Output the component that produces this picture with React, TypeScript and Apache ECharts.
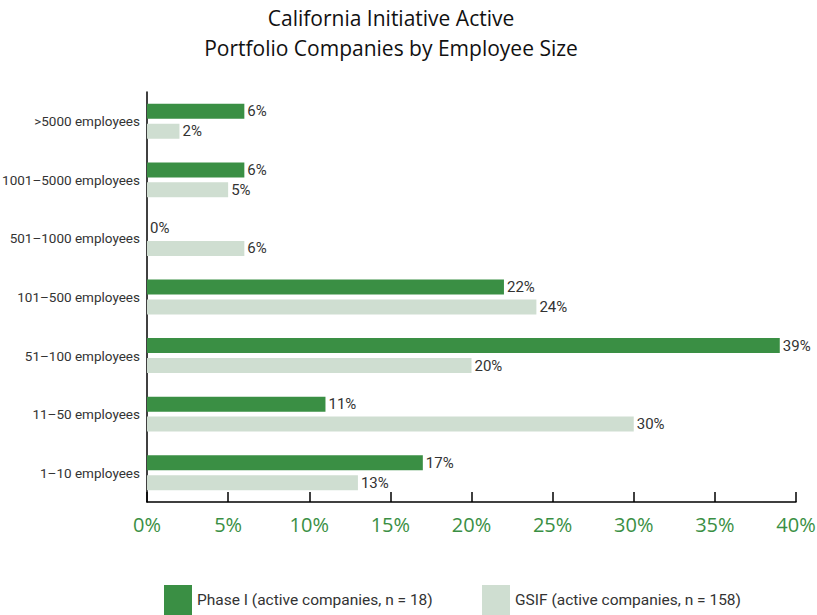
import React, { useEffect, useRef } from "react";
import * as echarts from "echarts";

const categories = [
  ">5000 employees",
  "1001–5000 employees",
  "501–1000 employees",
  "101–500 employees",
  "51–100 employees",
  "11–50 employees",
  "1–10 employees",
];
const phaseI = [6, 6, 0, 22, 39, 11, 17];
const gsif = [2, 5, 6, 24, 20, 30, 13];
const seriesNames = ["Phase I (active companies, n = 18)", "GSIF (active companies, n = 158)"];
const xTicks = [0, 5, 10, 15, 20, 25, 30, 35, 40];

const GREEN = "#3a8f44";
const LIGHT = "#cfded1";
const NARROW = "Roboto, sans-serif";

export default function App() {
  const ref = useRef<HTMLDivElement>(null);
  useEffect(() => {
    if (!ref.current) return;
    const chart = echarts.init(ref.current, null, { renderer: "svg" });
    const valueLabel = {
      show: true,
      position: "right",
      distance: 3,
      formatter: "{c}%",
      color: "#333",
      fontSize: 15,
      fontFamily: NARROW,
    };
    chart.setOption({
      animation: false,
      backgroundColor: "#ffffff",
      title: {
        text: "California Initiative Active\nPortfolio Companies by Employee Size",
        left: 391,
        top: 3,
        padding: 0,
        textAlign: "center",
        textStyle: {
          fontFamily: "'Open Sans', sans-serif",
          fontWeight: "normal",
          fontSize: 21,
          lineHeight: 30,
          color: "#111",
        },
      },
      legend: [
        {
          data: [seriesNames[0]],
          left: 164,
          top: 585,
          padding: 0,
          icon: "rect",
          itemWidth: 28,
          itemHeight: 30,
          itemGap: 7,
          textStyle: { fontFamily: NARROW, fontSize: 15.5, color: "#333", padding: [6, 0, 0, 0] },
        },
        {
          data: [seriesNames[1]],
          left: 482,
          top: 585,
          padding: 0,
          icon: "rect",
          itemWidth: 28,
          itemHeight: 30,
          itemGap: 7,
          textStyle: { fontFamily: NARROW, fontSize: 15.5, color: "#333", padding: [6, 0, 0, 0] },
        },
      ],
      grid: { left: 147, right: 21, top: 92, bottom: 113, containLabel: false, outerBoundsMode: "none" },
      xAxis: {
        type: "value",
        min: 0,
        max: 40,
        interval: 5,
        axisLine: { show: true, lineStyle: { color: "#000", width: 1.5 } },
        axisTick: { show: true, inside: true, length: 10, lineStyle: { color: "#000", width: 1.5 } },
        splitLine: { show: false },
        axisLabel: {
          formatter: (v: number) => (xTicks.includes(v) ? `${v}%` : ""),
          color: GREEN,
          fontSize: 20,
          fontFamily: "'Open Sans', sans-serif",
          margin: 12,
        },
      },
      yAxis: {
        type: "category",
        data: categories,
        inverse: true,
        axisLine: { show: true, lineStyle: { color: "#000", width: 1.5 } },
        axisTick: { show: false },
        axisLabel: { color: "#333", fontSize: 13.5, fontFamily: NARROW, margin: 7 },
      },
      series: [
        {
          name: seriesNames[0],
          type: "bar",
          data: phaseI,
          barWidth: 15,
          barGap: "33%",
          itemStyle: { color: GREEN },
          label: valueLabel,
        },
        {
          name: seriesNames[1],
          type: "bar",
          data: gsif,
          barWidth: 15,
          barGap: "33%",
          itemStyle: { color: LIGHT },
          label: valueLabel,
        },
      ],
    });
    return () => chart.dispose();
  }, []);
  return (
    <div
      ref={ref}
      style={{ position: "absolute", left: 0, top: 0, width: 817, height: 615 }}
    />
  );
}
